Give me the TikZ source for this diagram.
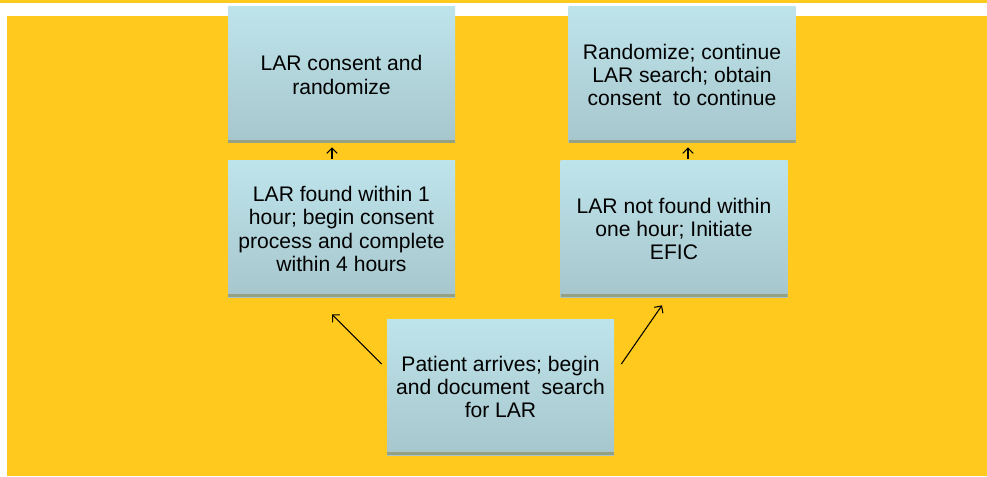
\documentclass[tikz,border=0pt]{standalone}
\usepackage{fontspec}
\setmainfont{Liberation Sans}
\usetikzlibrary{arrows.meta}
\definecolor{bgyellow}{RGB}{255,201,30}
\definecolor{boxtop}{RGB}{190,228,235}
\definecolor{boxbot}{RGB}{166,198,204}
\definecolor{boxshade}{RGB}{150,160,130}
\begin{document}
\begin{tikzpicture}
\tikzstyle{every node}=[font=\fontsize{12}{13.3}\selectfont]
\tikzstyle{stepbox}=[rectangle,minimum width=4.54cm,minimum height=2.72cm,inner sep=0pt,align=center,
  top color=boxtop,bottom color=boxbot,
  path picture={\fill[boxshade](path picture bounding box.south west) rectangle ([yshift=1.6pt]path picture bounding box.south east);}]
\tikzstyle{flow}=[-{Straight Barb[length=3pt,width=6pt]},line width=0.6pt]
\fill[white](0,0) rectangle (19.74,9.52);
\fill[bgyellow](0.14,0) rectangle (19.74,9.2);
\fill[bgyellow](0,9.46) rectangle (19.74,9.52);
\node[stepbox](consent) at (6.83,8.02){LAR consent and\\randomize};
\node[stepbox](found) at (6.83,4.94){LAR found within 1\\hour; begin consent\\process and complete\\within 4 hours};
\node[stepbox](continue) at (13.64,8.02){Randomize; continue\\LAR search; obtain\\consent\ \ to continue};
\node[stepbox](notfound) at (13.48,4.94){LAR not found within\\one hour; Initiate\\EFIC};
\node[stepbox](arrive) at (10.01,1.78){Patient arrives; begin\\and document\ \ search\\for LAR};
\draw[flow]([xshift=-0.19cm,yshift=0.04cm]found.north)--([xshift=-0.19cm,yshift=-0.08cm]consent.south);
\draw[flow]([xshift=0.28cm,yshift=0.04cm]notfound.north)--([xshift=0.12cm,yshift=-0.08cm]continue.south);
\draw[flow]([xshift=-0.1cm,yshift=0.46cm]arrive.west)--([xshift=-0.19cm,yshift=-0.34cm]found.south);
\draw[flow]([xshift=0.14cm,yshift=0.46cm]arrive.east)--([xshift=-0.24cm,yshift=-0.16cm]notfound.south);
\end{tikzpicture}
\end{document}
